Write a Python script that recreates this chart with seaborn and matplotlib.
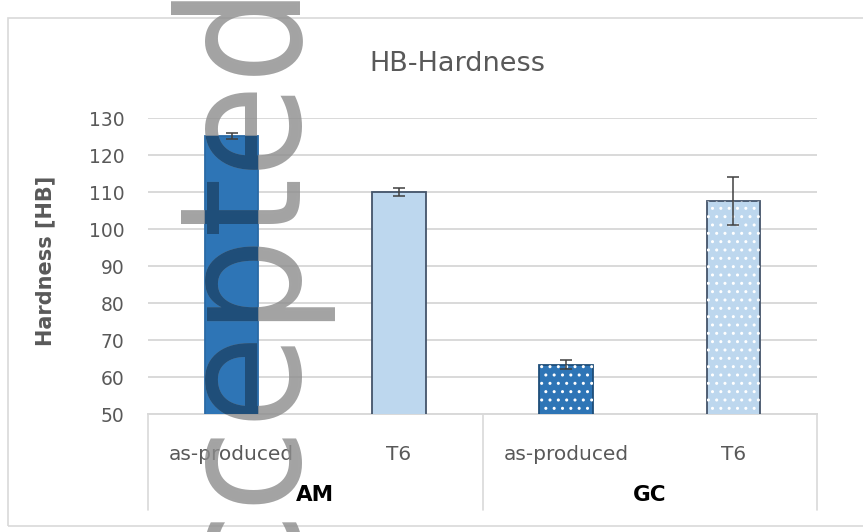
import numpy as np
import pandas as pd
import seaborn as sns
import matplotlib.pyplot as plt
from matplotlib.patches import Rectangle

# values
groups = ["AM", "AM", "GC", "GC"]
conditions = ["as-produced", "T6", "as-produced", "T6"]
hardness = [125.3, 110.1, 63.4, 107.6]
errors = [0.8, 1.2, 1.3, 6.5]
yticks = [50, 60, 70, 80, 90, 100, 110, 120, 130]

fills = ["#2E75B6", "#BDD7EE", "#2E75B6", "#BDD7EE"]
edges = ["#2A6AA6", "#44546A", "#1F4E79", "#44546A"]
dotted = [False, False, True, True]

df = pd.DataFrame({"group": groups, "condition": conditions, "hardness": hardness})
df["key"] = df["group"] + " " + df["condition"]

sns.set_style("white")
plt.rcParams["font.family"] = ["DejaVu Sans"]

fig = plt.figure(figsize=(8.63, 5.32), dpi=100)
ax = fig.add_axes([0.1715, 0.2218, 0.7752, 0.5555])

sns.barplot(data=df, x="key", y="hardness", hue="key", palette=fills,
            saturation=1, width=0.32, legend=False, ax=ax, zorder=3)

for bar, ec, dots in zip(ax.patches, edges, dotted):
    bar.set_edgecolor(ec)
    bar.set_linewidth(1.3)
    if dots:
        # white dot pattern on top of the GC bars
        ax.add_patch(Rectangle(bar.get_xy(), bar.get_width(), bar.get_height(),
                               facecolor="none", edgecolor="white", hatch="..",
                               linewidth=0, zorder=3.5))

xpos = np.arange(len(hardness))
ax.errorbar(xpos, hardness, yerr=errors, fmt="none", ecolor="#404040",
            elinewidth=1.1, capsize=4, capthick=1.1, zorder=4)

ax.set_ylim(50, 130)
ax.set_xlim(-0.5, 3.5)
ax.set_yticks(yticks)
ax.yaxis.grid(True, color="#D9D9D9", linewidth=1.4, zorder=0)
ax.set_axisbelow(True)
for s in ["left", "right", "top"]:
    ax.spines[s].set_visible(False)
ax.spines["bottom"].set_color("#D9D9D9")
ax.spines["bottom"].set_linewidth(1.4)

ax.set_xticks(xpos)
ax.set_xticklabels(conditions)
ax.tick_params(axis="x", length=0, pad=22, labelsize=14.5, labelcolor="#595959")
ax.tick_params(axis="y", length=0, pad=17, labelsize=13.5, labelcolor="#595959")
ax.set_xlabel("")
ax.set_ylabel("Hardness [HB]", fontsize=15, fontweight="bold", color="#595959")
ax.yaxis.set_label_coords(-0.139, 0.519)

# second level of the category axis
trans = ax.get_xaxis_transform()
for xd in [-0.5, 1.5, 3.5]:
    ax.plot([xd, xd], [0, -0.325], transform=trans, color="#D9D9D9",
            linewidth=1.2, clip_on=False)
for xd, g in [(0.5, "AM"), (2.5, "GC")]:
    ax.text(xd, -0.274, g, transform=trans, ha="center", va="center",
            fontsize=15.5, fontweight="bold", color="black")

fig.text(0.53, 0.879, "HB-Hardness", ha="center", va="center",
         fontsize=19.5, color="#595959")

# chart area border
fig.add_artist(Rectangle((8 / 863, 1 - 526 / 532), 1.2, 508 / 532,
                         transform=fig.transFigure, fill=False,
                         edgecolor="#D9D9D9", linewidth=1.2))

# "Accepted" watermark running up the left side
wm_kw = dict(rotation=90, rotation_mode="anchor", ha="left", va="baseline",
             fontsize=122, fontstretch="condensed")
fig.text(300 / 863, -0.307, "Accepted", color="#8C8C8C", alpha=0.8,
         zorder=10, **wm_kw)
wm2 = fig.text(300 / 863, -0.307, "Accepted", color="#1F4E79", zorder=11, **wm_kw)
first = ax.patches[0]
clip = Rectangle((first.get_x(), 50), first.get_width(), hardness[0] - 50,
                 transform=ax.transData)
wm2.set_clip_path(clip)

fig.savefig("out.png", dpi=100)
